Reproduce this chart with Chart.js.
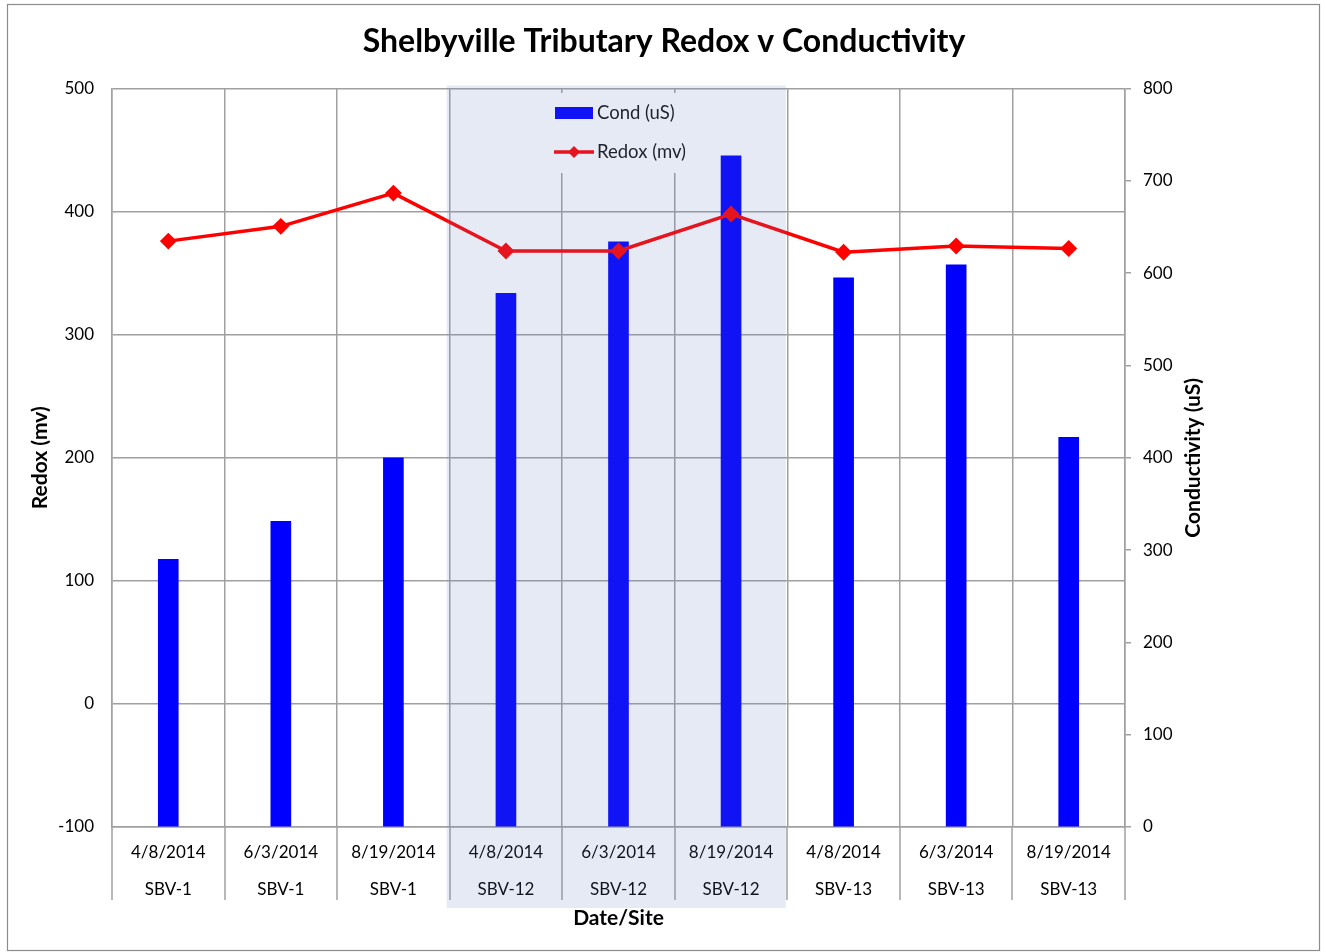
<!DOCTYPE html>
<html><head><meta charset="utf-8">
<script src="https://cdn.jsdelivr.net/npm/chart.js@4"></script>
<style>html,body{margin:0;padding:0;background:#fff}canvas{display:block}</style>
</head><body>
<canvas id="c" width="1326" height="952"></canvas>
<script>
const dates = ['4/8/2014','6/3/2014','8/19/2014','4/8/2014','6/3/2014','8/19/2014','4/8/2014','6/3/2014','8/19/2014'];
const sites = ['SBV-1','SBV-1','SBV-1','SBV-12','SBV-12','SBV-12','SBV-13','SBV-13','SBV-13'];
const condValues = [290,331,400,578,634,727,595,609,422];
const redoxValues = [376,388,415,368,368,398,367,372,370];
const redoxAxis = {min:-100, max:500, step:100};
const condAxis = {min:0, max:800, step:100};
const shadedSite = 'SBV-12';

const FONT = 'Lato, "Open Sans", sans-serif';
const GRID = '#a0a0a0';

const decor = {
  id: 'decor',
  beforeDraw(chart) {
    const c = chart.ctx;
    c.save(); c.fillStyle = '#fff'; c.fillRect(0,0,chart.width,chart.height); c.restore();
  },
  afterDatasetsDraw(chart) {
    const c = chart.ctx, a = chart.chartArea, x = chart.scales.x;
    const half = (x.getPixelForValue(1) - x.getPixelForValue(0)) / 2;
    c.save();
    // separators in label area
    c.strokeStyle = GRID; c.lineWidth = 1.5;
    for (let i = 0; i <= dates.length; i++) {
      const px = Math.round((i < dates.length ? x.getPixelForValue(i) - half : x.getPixelForValue(dates.length-1) + half));
      c.beginPath(); c.moveTo(px, a.bottom); c.lineTo(px, a.bottom + 73); c.stroke();
    }
    // legend
    c.fillStyle = '#fff'; c.fillRect(549, 93, 152, 80);
    c.fillStyle = '#0000ff'; c.fillRect(555, 107, 38, 12);
    c.strokeStyle = '#ff0000'; c.lineWidth = 3.5;
    c.beginPath(); c.moveTo(554, 152); c.lineTo(594, 152); c.stroke();
    c.fillStyle = '#ff0000';
    c.beginPath(); c.moveTo(574, 146); c.lineTo(580, 152); c.lineTo(574, 158); c.lineTo(568, 152); c.closePath(); c.fill();
    c.fillStyle = '#111'; c.font = '18.5px ' + FONT; c.textBaseline = 'middle'; c.textAlign = 'left';
    c.fillText(chart.data.datasets[1].label, 597, 113);
    c.fillText(chart.data.datasets[0].label, 597, 152);
    // shade overlay
    const first = sites.indexOf(shadedSite), last = sites.lastIndexOf(shadedSite);
    const l = x.getPixelForValue(first) - half - 3, r = x.getPixelForValue(last) + half - 1.5;
    c.fillStyle = 'rgba(100,125,186,0.16)';
    c.fillRect(l, a.top - 3, r - l, a.bottom + 81 - (a.top - 3));
    c.restore();
  },
  afterDraw(chart) {
    const c = chart.ctx, a = chart.chartArea;
    c.save();
    c.fillStyle = '#000'; c.textAlign = 'center'; c.textBaseline = 'middle';
    c.font = 'bold 32px ' + FONT;
    c.fillText('Shelbyville Tributary Redox v Conductivity', 664, 42);
    c.font = 'bold 21px ' + FONT;
    c.fillText('Date/Site', (a.left + a.right) / 2, 918);
    const cy = (a.top + a.bottom) / 2;
    c.save(); c.translate(40, cy); c.rotate(-Math.PI/2); c.fillText('Redox (mv)', 0, 0); c.restore();
    c.save(); c.translate(1193, cy); c.rotate(-Math.PI/2); c.fillText('Conductivity (uS)', 0, 0); c.restore();
    c.strokeStyle = '#8c8c8c'; c.lineWidth = 1.2;
    c.strokeRect(7.5, 4.5, 1312, 946);
    c.restore();
  }
};

new Chart(document.getElementById('c'), {
  data: {
    labels: dates.map((d, i) => [d, sites[i]]),
    datasets: [
      { type: 'line', label: 'Redox (mv)', data: redoxValues, yAxisID: 'y', order: 0,
        borderColor: '#ff0000', backgroundColor: '#ff0000', borderWidth: 3.5,
        pointStyle: 'rectRot', pointRadius: 6, pointHoverRadius: 6, tension: 0 },
      { type: 'bar', label: 'Cond (uS)', data: condValues, yAxisID: 'y1', order: 1,
        backgroundColor: '#0000ff', barThickness: 20 }
    ]
  },
  options: {
    responsive: false, animation: false, devicePixelRatio: 1,
    layout: { padding: { top: 88.5, left: 0, right: 0, bottom: 0 } },
    plugins: { legend: { display: false }, title: { display: false }, tooltip: { enabled: false } },
    scales: {
      x: {
        offset: true,
        grid: { offset: true, color: GRID, lineWidth: 1.5, drawTicks: false },
        border: { color: GRID, width: 1.5 },
        ticks: { color: '#000', font: { family: FONT, size: 17, lineHeight: 2.18 }, padding: 6.5, maxRotation: 0, autoSkip: false },
        afterFit(s) { s.height = 125; }
      },
      y: {
        position: 'left', min: redoxAxis.min, max: redoxAxis.max,
        grid: { color: GRID, lineWidth: 1.5, drawTicks: false },
        border: { color: GRID, width: 1.5 },
        ticks: { stepSize: redoxAxis.step, padding: 18, color: '#000', font: { family: FONT, size: 17 } },
        afterFit(s) { s.width = 112; }
      },
      y1: {
        position: 'right', min: condAxis.min, max: condAxis.max,
        grid: { drawOnChartArea: false, color: GRID, lineWidth: 1.5, tickLength: 6 },
        border: { color: GRID, width: 1.5 },
        ticks: { stepSize: condAxis.step, padding: 12, color: '#000', font: { family: FONT, size: 17 } },
        afterFit(s) { s.width = 201; }
      }
    }
  },
  plugins: [decor]
});
</script>
</body></html>
